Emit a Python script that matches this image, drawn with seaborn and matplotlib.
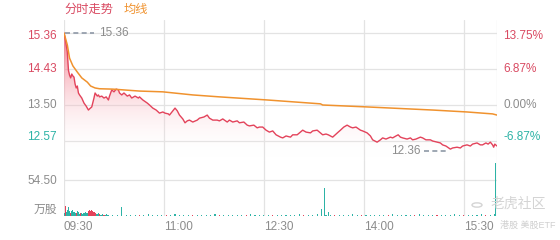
import numpy as np
import pandas as pd
import matplotlib
matplotlib.use("Agg")
import matplotlib.pyplot as plt
import seaborn as sns
from matplotlib.colors import LinearSegmentedColormap
from matplotlib.transforms import blended_transform_factory

# ---------------- data ----------------
price_minutes = [0, 1, 3, 4, 5, 6, 7, 8, 9, 10, 11, 12, 13, 14, 16, 18, 20, 22, 23, 25,
                 27, 28, 30, 31, 32, 34, 36, 38, 40, 41, 43, 45, 47, 49, 50, 52, 54, 57, 59, 61,
                 64, 67, 68, 71, 75, 77, 80, 83, 86, 89, 91, 94, 95, 98, 100, 102, 104, 107, 109, 111,
                 113, 116, 120, 122, 126, 129, 131, 134, 138, 140, 143, 147, 149, 152, 156, 158, 162, 165, 167, 171,
                 174, 176, 179, 182, 185, 188, 191, 195, 197, 200, 204, 206, 210, 213, 215, 218, 222, 224, 228, 231,
                 233, 236, 238, 240, 242, 245, 247, 249, 252, 255, 258, 260, 263, 267, 269, 273, 276, 278, 282, 285,
                 287, 290, 294, 296, 299, 301, 303, 305, 309, 312, 314, 317, 321, 323, 326, 330, 332, 336, 339, 341,
                 344, 348, 350, 354, 357, 359, 363, 366, 368, 372, 375, 377, 380, 382, 384, 386, 387, 388, 390]
price = [15.36, 15.23, 14.87, 14.40, 14.27, 14.20, 14.30, 14.25, 14.22, 14.04, 13.94, 13.99, 13.81, 13.76, 13.68, 13.55, 13.47, 13.37, 13.40, 13.45,
         13.68, 13.81, 13.73, 13.76, 13.71, 13.73, 13.68, 13.71, 13.63, 13.73, 13.89, 13.84, 13.91, 13.89, 13.81, 13.76, 13.81, 13.73, 13.76, 13.68,
         13.73, 13.68, 13.71, 13.63, 13.55, 13.50, 13.42, 13.37, 13.29, 13.32, 13.29, 13.27, 13.24, 13.35, 13.42, 13.35, 13.24, 13.14, 13.04, 13.09,
         13.11, 13.06, 13.11, 13.16, 13.19, 13.24, 13.16, 13.11, 13.11, 13.09, 13.14, 13.06, 13.11, 13.06, 13.09, 13.04, 13.06, 12.98, 12.96, 12.98,
         12.91, 12.93, 12.93, 12.85, 12.80, 12.83, 12.73, 12.67, 12.65, 12.70, 12.67, 12.73, 12.73, 12.80, 12.85, 12.80, 12.78, 12.83, 12.85, 12.78,
         12.73, 12.75, 12.73, 12.70, 12.67, 12.75, 12.80, 12.85, 12.93, 12.98, 12.93, 12.91, 12.93, 12.85, 12.83, 12.78, 12.70, 12.60, 12.54, 12.60,
         12.65, 12.62, 12.67, 12.65, 12.70, 12.73, 12.67, 12.65, 12.62, 12.65, 12.60, 12.62, 12.67, 12.65, 12.60, 12.60, 12.57, 12.54, 12.52, 12.47,
         12.44, 12.36, 12.39, 12.41, 12.39, 12.44, 12.47, 12.44, 12.49, 12.52, 12.47, 12.47, 12.52, 12.49, 12.54, 12.47, 12.41, 12.49, 12.44]

avg_minutes = [0, 3, 5, 8, 12, 16, 21, 24, 28, 32, 44, 68, 89, 116, 140, 183, 231, 233,
               273, 332, 363, 386, 390]
avg_price = [15.36, 15.05, 14.71, 14.51, 14.35, 14.20, 14.09, 13.99, 13.94, 13.92, 13.91,
             13.86, 13.84, 13.76, 13.71, 13.63, 13.53, 13.50, 13.45, 13.37, 13.32, 13.27, 13.24]

vol_early_minutes = list(range(0, 41))
vol_early = [4, 15, 6, 9, 13, 8, 5, 7, 9, 6, 4, 5, 8, 6, 3, 4, 5, 3, 4, 6,
             5, 4, 7, 9, 8, 9, 7, 6, 4, 3, 3, 4, 3, 2, 2, 3, 2, 2, 3, 2, 2]
vol_early_up = [0, 1, 0, 0, 0, 0, 1, 0, 0, 0, 0, 1, 0, 0, 0, 1, 0, 0, 0, 0,
                0, 0, 1, 1, 1, 1, 1, 1, 1, 0, 0, 0, 1, 0, 0, 0, 1, 0, 0, 0, 0]
vol_late_minutes = list(range(44, 389, 4))
vol_late = [2, 1, 3, 2, 1, 2, 1, 2, 3, 1, 2, 1, 1, 2, 3, 1, 2, 1, 2, 1,
            1, 2, 1, 3, 2, 1, 2, 1, 1, 2, 1, 3, 2, 1, 2, 1, 2, 1, 1, 2,
            2, 1, 3, 2, 1, 2, 3, 2, 1, 2, 1, 2, 1, 1, 3, 2, 1, 2, 1, 2,
            1, 2, 1, 3, 2, 1, 2, 1, 2, 3, 1, 2, 1, 2, 1, 1, 2, 3, 2, 1,
            2, 1, 2, 3, 2, 1, 3]
vol_late_up = [0, 0, 1, 0, 0, 0, 1, 0, 0, 0, 0, 0, 1, 0, 0, 0, 0, 0, 1, 0,
               0, 0, 0, 0, 1, 0, 0, 0, 0, 0, 1, 0, 0, 0, 0, 0, 1, 0, 0, 0,
               0, 0, 0, 1, 0, 0, 0, 0, 0, 0, 1, 0, 0, 0, 0, 0, 1, 0, 0, 0,
               0, 0, 1, 0, 0, 0, 0, 0, 1, 0, 0, 0, 0, 1, 0, 0, 0, 0, 0, 1,
               0, 0, 0, 0, 1, 0, 0]
vol_spike_minutes = [52, 232, 235, 238, 389]
vol_spike = [13, 10, 42, 6, 80]
vol_spike_up = [0, 0, 0, 0, 0]

price_ticks = [15.36, 14.43, 13.50, 12.57]
pct_labels = ["13.75%", "6.87%", "0.00%", "-6.87%"]
time_ticks = [0, 90, 180, 270, 360]
time_labels = ["09:30", "11:00", "12:30", "14:00", "15:30"]
vol_tick = 54.50
high_label = 15.36
low_label = 12.36

# ---------------- style ----------------
sns.set_theme(style="white")
plt.rcParams["font.family"] = ["Liberation Sans", "Noto Sans CJK SC", "DejaVu Sans"]

RED = "#e3435b"
RED_TXT = "#d94a62"
ORANGE = "#f0922e"
TEAL = "#2db3a6"
GRAY = "#8c8c8c"
GRID = "#e3e3e3"

W, H = 560, 240
fig = plt.figure(figsize=(5.6, 2.4), dpi=100)
L, R = 64, 497
ax = fig.add_axes([L / W, 1 - 160 / H, (R - L) / W, 140 / H])
axv = fig.add_axes([L / W, 1 - 216 / H, (R - L) / W, 56 / H])

ymax = 15.36 + 13 / 38.71
ymin = 15.36 - 127 / 38.71
vmax = 56 * 54.5 / 36

df = pd.DataFrame({"t": price_minutes, "price": price})
dfa = pd.DataFrame({"t": avg_minutes, "avg": avg_price})

for a in (ax, axv):
    a.set_xlim(0, 390)
    for s in a.spines.values():
        s.set_visible(False)
    a.set_xticks([])
    a.set_yticks([])
    a.patch.set_alpha(0)
    for t in time_ticks[1:] + [0, 390]:
        a.axvline(t, color=GRID, lw=0.9, zorder=0)
ax.set_ylim(ymin, ymax)
axv.set_ylim(0, vmax)

for p in price_ticks:
    ax.axhline(p, color=GRID, lw=0.9, zorder=0)
axv.axhline(vol_tick, color=GRID, lw=0.9, zorder=0)

# gradient fill under price
poly = ax.fill_between(df.t, df.price, ymin, color="none", lw=0)
grad = np.linspace(0, 1, 256).reshape(-1, 1)
cmap = LinearSegmentedColormap.from_list("g", [(1, 1, 1, 0), (0.94, 0.33, 0.41, 0.8)])
im = ax.imshow(grad, extent=[0, 390, ymin + 0.05, 15.36], origin="lower",
               aspect="auto", cmap=cmap, zorder=1)
im.set_clip_path(poly.get_paths()[0], transform=ax.transData)

sns.lineplot(data=df, x="t", y="price", ax=ax, color=RED, lw=1.0, zorder=3)
sns.lineplot(data=dfa, x="t", y="avg", ax=ax, color=ORANGE, lw=1.1, zorder=4)
ax.set_xlabel("")
ax.set_ylabel("")
ax.set_xlim(0, 390)
ax.set_ylim(ymin, ymax)

# volume bars
vt = vol_early_minutes + vol_late_minutes + vol_spike_minutes
vv = vol_early + vol_late + vol_spike
vu = vol_early_up + vol_late_up + vol_spike_up
cols = [RED if u else TEAL for u in vu]
axv.bar(vt, vv, width=1.0, color=cols, lw=0, zorder=2)
axv.set_xlabel("")
axv.set_ylabel("")

# labels
tl = blended_transform_factory(ax.transAxes, ax.transData)
lcol = [RED_TXT, RED_TXT, GRAY, TEAL]
offs = [-0.09, 0, 0, 0.1]
for p, lab, c, o in zip(price_ticks, pct_labels, lcol, offs):
    ax.text(-0.016, p + o, f"{p:.2f}", transform=tl, ha="right", va="center",
            color=c, fontsize=8.5)
    ax.text(1 + 6 / 433, p + o, lab, transform=tl, ha="left", va="center",
            color=c, fontsize=8.5)

tv = blended_transform_factory(axv.transAxes, axv.transData)
axv.text(-0.016, vol_tick - 1.5, f"{vol_tick:.2f}", transform=tv, ha="right",
         va="center", color=GRAY, fontsize=8.5)
axv.text(-0.016, 0.107, "万股", transform=axv.transAxes, ha="right", va="center",
         color=GRAY, fontsize=8.5)
for t, lab in zip(time_ticks, time_labels):
    axv.text(t, -0.2, lab, transform=blended_transform_factory(axv.transData, axv.transAxes),
             ha="left", va="center", color=GRAY, fontsize=8.5)

# high / low markers
ax.plot([1, 27], [high_label, high_label], ls=(0, (3, 2)), color="#8e98a6", lw=1.2, zorder=5)
ax.text(32, high_label, f"{high_label:.2f}", ha="left", va="center", color=GRAY, fontsize=8.5)
ax.plot([324, 346], [low_label - 0.06, low_label - 0.06], ls=(0, (3, 2)), color="#8e98a6", lw=1.2, zorder=5)
ax.text(321, low_label - 0.06, f"{low_label:.2f}", ha="right", va="center", color=GRAY, fontsize=8.5)

# legend texts
fig.text(64 / W, 1 - 10 / H, "分时走势", ha="left", va="center", color=RED_TXT, fontsize=8.8)
fig.text(124 / W, 1 - 10 / H, "均线", ha="left", va="center", color=ORANGE, fontsize=8.8)

# watermark
fig.text(518 / W, 1 - 204 / H, "老虎社区", ha="center", va="center", color="#d4d4d4", fontsize=10)
circ = plt.Circle((477 / W, 1 - 205 / H), 5 / W, transform=fig.transFigure, fill=False,
                  ec="#d4d4d4", lw=1)
fig.add_artist(circ)
fig.text(500 / W, 1 - 225 / H, "港股 美股ETF", ha="left", va="center", color="#cfcfcf",
         fontsize=6.5)

fig.savefig("out.png", dpi=100)
